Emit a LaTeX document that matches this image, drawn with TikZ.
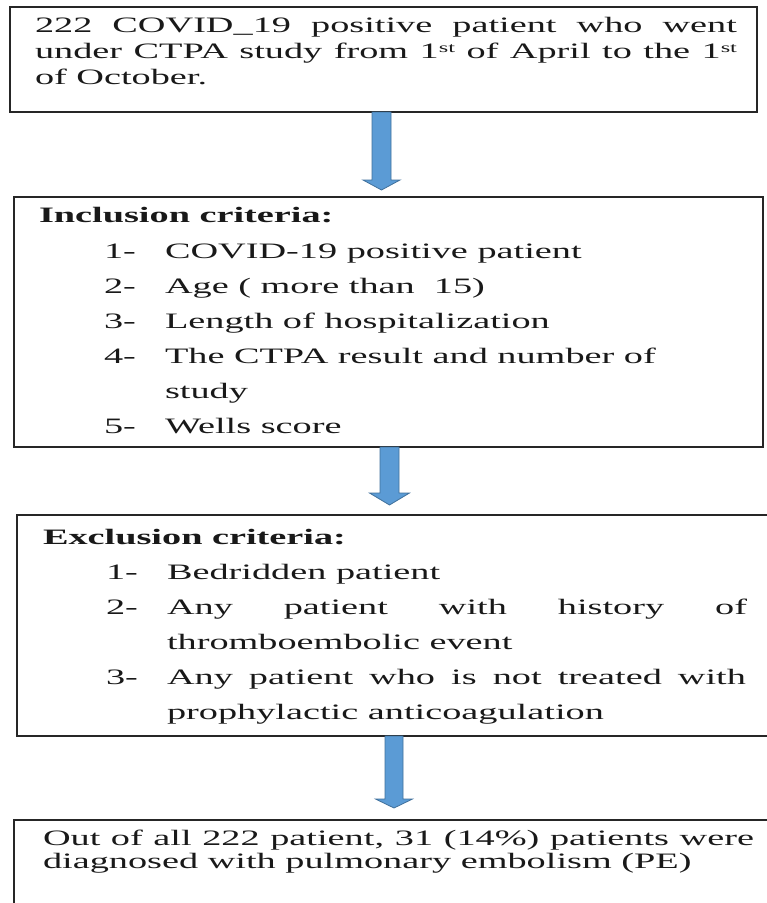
\documentclass[tikz,border=0pt]{standalone}
\usepackage{fontspec}
\setmainfont{Liberation Serif}[FakeStretch=1.74]
\usetikzlibrary{calc}
\definecolor{arrowfill}{RGB}{91,155,213}
\definecolor{arrowline}{RGB}{65,113,156}
\newcommand\sups[1]{\raisebox{0.55ex}{\fontsize{14}{14}\selectfont #1}}
\newcommand\blockarrow[5]{%
  \draw[barrow] ($(#1)+(-#4,0)$) -- ++(0,#2) -- ++(#4-#5,0) -- ++(#5,#3)
    -- ++(#5,-#3) -- ++(#4-#5,0) -- ++(0,-#2) -- cycle;}
\begin{document}
\begin{tikzpicture}[x=1pt,y=-1pt,
  box/.style={draw=black!85,line width=1.2pt,fill=none,rectangle,anchor=north west,inner sep=0pt,outer sep=0pt},
  txt/.style={anchor=base west,inner sep=0pt,outer sep=0pt,text=black!90,font=\fontsize{22}{26}\selectfont},
  btxt/.style={txt,font=\fontsize{22}{26}\selectfont\bfseries},
  barrow/.style={fill=arrowfill,draw=arrowline,line width=0.8pt,line join=miter}]
\clip (0,0) rectangle (767,903);
\fill[white] (0,0) rectangle (767,903);
% boxes
\node[box,minimum width=747pt,minimum height=105pt] (b1) at (10,7) {};
\node[box,minimum width=749pt,minimum height=250pt] (b2) at (14,197) {};
\node[box,minimum width=770pt,minimum height=221pt] (b3) at (17,515) {};
\node[box,minimum width=770pt,minimum height=100pt] (b4) at (14,820) {};
% arrows
\coordinate (c1) at (381.5,0);
\coordinate (c2) at (389.5,0);
\coordinate (c3) at (394,0);
\blockarrow{c1 |- b1.south}{68}{10}{9.5}{18.5}
\blockarrow{c2 |- b2.south}{46}{12}{9.5}{20}
\blockarrow{c3 |- b3.south}{63}{9}{9}{18.5}
% box 1 text
\node[txt] (t1a) at (35,32) {\makebox[702pt][s]{222 COVID\_19 positive patient who went}};
\node[txt] (t1b) at (35,58) {\makebox[702pt][s]{under CTPA study from 1\sups{st} of April to the 1\sups{st}}};
\node[txt] (t1c) at (35,84) {of October.};
% box 2 text
\node[btxt] (t2h) at (39,222) {Inclusion criteria:};
\node[txt] (n21) at (104,258) {1-};
\node[txt] (t21) at (165,258) {COVID-19 positive patient};
\node[txt] (n22) at (104,293) {2-};
\node[txt] (t22) at (165,293) {Age ( more than\ \ 15)};
\node[txt] (n23) at (104,328) {3-};
\node[txt] (t23) at (165,328) {Length of hospitalization};
\node[txt] (n24) at (104,363) {4-};
\node[txt] (t24) at (165,363) {The CTPA result and number of};
\node[txt] (t24b) at (165,398) {study};
\node[txt] (n25) at (104,433) {5-};
\node[txt] (t25) at (165,433) {Wells score};
% box 3 text
\node[btxt] (t3h) at (43,544) {Exclusion criteria:};
\node[txt] (n31) at (106,579) {1-};
\node[txt] (t31) at (167,579) {Bedridden patient};
\node[txt] (n32) at (106,614) {2-};
\node[txt] (t32) at (167,614) {\makebox[580pt][s]{Any patient with history of}};
\node[txt] (t32b) at (167,649) {thromboembolic event};
\node[txt] (n33) at (106,684) {3-};
\node[txt] (t33) at (167,684) {\makebox[579pt][s]{Any patient who is not treated with}};
\node[txt] (t33b) at (167,719) {prophylactic anticoagulation};
% box 4 text
\node[txt] (t4a) at (43,845) {\makebox[711pt][s]{Out of all 222 patient, 31 (14\%) patients were}};
\node[txt] (t4b) at (43,868) {diagnosed with pulmonary embolism (PE)};
\end{tikzpicture}
\end{document}
